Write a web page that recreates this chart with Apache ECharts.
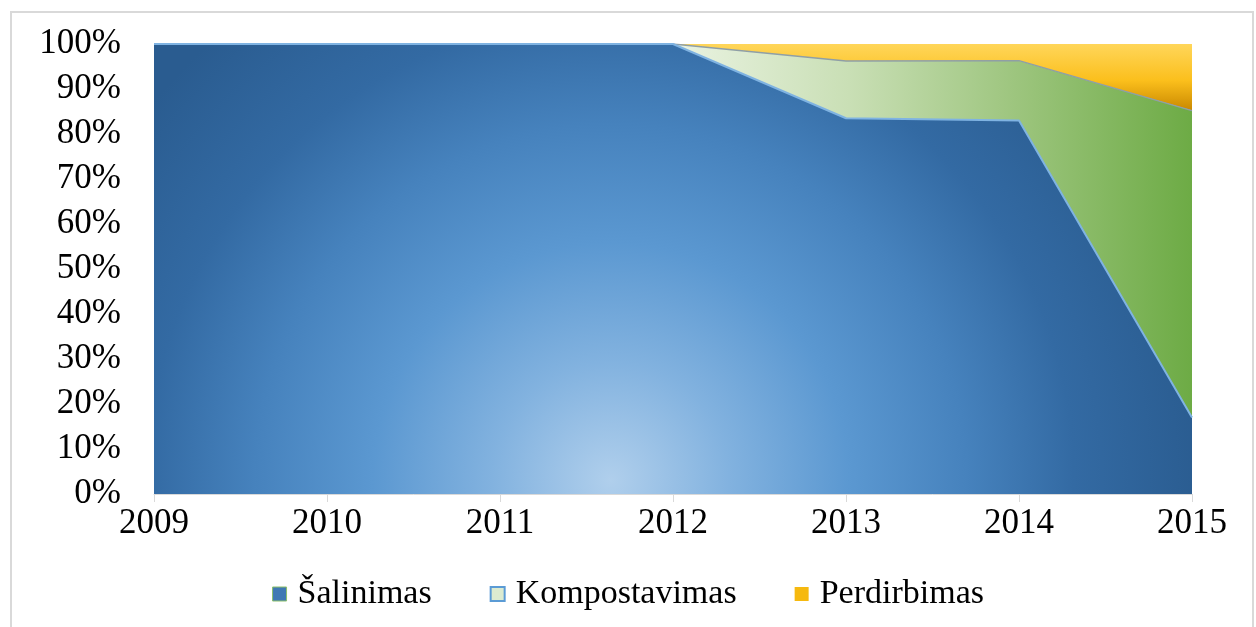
<!DOCTYPE html>
<html>
<head>
<meta charset="utf-8">
<script src="https://cdn.jsdelivr.net/npm/echarts@6/dist/echarts.min.js"></script>
<style>
  html, body { margin: 0; padding: 0; background: #fff; }
  .frame {
    position: absolute; left: 10px; top: 11px; width: 1244px; height: 640px;
    border: 2px solid #d9d9d9; box-sizing: border-box;
  }
  #chart { position: absolute; left: 0; top: 0; width: 1256px; height: 627px; }
</style>
</head>
<body>
<div class="frame"></div>
<div id="chart"></div>
<script>
// 年份
const years = ['2009', '2010', '2011', '2012', '2013', '2014', '2015']
// 各系列占比 (%)
const salinimas = [100, 100, 100, 100, 83.5, 83, 17]
const kompostavimas = [0, 0, 0, 0, 12.7, 13.3, 68.2]
const perdirbimas = [0, 0, 0, 0, 3.8, 3.7, 14.8]

const fontFamily = '"Liberation Serif", "DejaVu Serif", serif'

// 蓝色径向渐变 (中心偏下)
const blueFill = new echarts.graphic.RadialGradient(0.44, 0.97, 1.32, [
  { offset: 0, color: '#b0cfec' },
  { offset: 0.2, color: '#82b2df' },
  { offset: 0.4, color: '#5b98d1' },
  { offset: 0.6, color: '#4682bd' },
  { offset: 0.78, color: '#336aa3' },
  { offset: 1, color: '#2a5c90' }
])
// 绿色水平渐变 (区域包围盒从 2009 开始)
const greenFill = new echarts.graphic.LinearGradient(0, 0, 1, 0, [
  { offset: 0, color: '#f2f7ec' },
  { offset: 0.5, color: '#eaf3e2' },
  { offset: 0.67, color: '#c9dfb5' },
  { offset: 0.83, color: '#9dc57e' },
  { offset: 1, color: '#6dab45' }
])
// 黄色竖直渐变
const yellowFill = new echarts.graphic.LinearGradient(0, 0, 0, 1, [
  { offset: 0, color: '#ffd65a' },
  { offset: 0.55, color: '#fbbf1c' },
  { offset: 1, color: '#c98800' }
])

const chart = echarts.init(document.getElementById('chart'))

chart.setOption({
  animation: false,
  grid: { left: 154, right: 64, top: 44, bottom: 133 },
  legend: {
    bottom: 11,
    left: 'center',
    itemWidth: 14,
    itemHeight: 14,
    itemGap: 58,
    textStyle: { fontFamily, fontSize: 34, color: '#000', padding: [0, 0, 0, 6] },
    data: [
      { name: 'Šalinimas', icon: 'rect', itemStyle: { color: '#3f78b4', borderColor: '#8cbf6a', borderWidth: 1 } },
      { name: 'Kompostavimas', icon: 'rect', itemStyle: { color: '#dcebd0', borderColor: '#5b9bd5', borderWidth: 2 } },
      { name: 'Perdirbimas', icon: 'rect', itemStyle: { color: '#f6b90f' } }
    ]
  },
  xAxis: {
    type: 'category',
    boundaryGap: false,
    data: years,
    axisLine: { lineStyle: { color: '#d9d9d9', width: 1 } },
    axisTick: { show: true, length: 8, lineStyle: { color: '#d9d9d9' } },
    axisLabel: { fontFamily, fontSize: 35, color: '#000', margin: 12 }
  },
  yAxis: {
    type: 'value',
    min: 0,
    max: 100,
    interval: 10,
    splitLine: { show: false },
    axisLine: { show: false },
    axisTick: { show: false },
    axisLabel: { fontFamily, fontSize: 35, color: '#000', margin: 33, formatter: '{value}%' }
  },
  series: [
    {
      name: 'Šalinimas',
      type: 'line',
      stack: 'total',
      symbol: 'none',
      data: salinimas,
      lineStyle: { color: '#7fb3e2', width: 2 },
      itemStyle: { color: '#3f78b4' },
      areaStyle: { color: blueFill, opacity: 1 },
      z: 3
    },
    {
      name: 'Kompostavimas',
      type: 'line',
      stack: 'total',
      symbol: 'none',
      data: kompostavimas,
      lineStyle: { color: '#8f9fa6', width: 1.5 },
      itemStyle: { color: '#dcebd0' },
      areaStyle: { color: greenFill, opacity: 1 },
      z: 2
    },
    {
      name: 'Perdirbimas',
      type: 'line',
      stack: 'total',
      symbol: 'none',
      data: perdirbimas,
      lineStyle: { width: 0 },
      itemStyle: { color: '#f6b90f' },
      areaStyle: { color: yellowFill, opacity: 1 },
      z: 1
    }
  ]
})
</script>
</body>
</html>
